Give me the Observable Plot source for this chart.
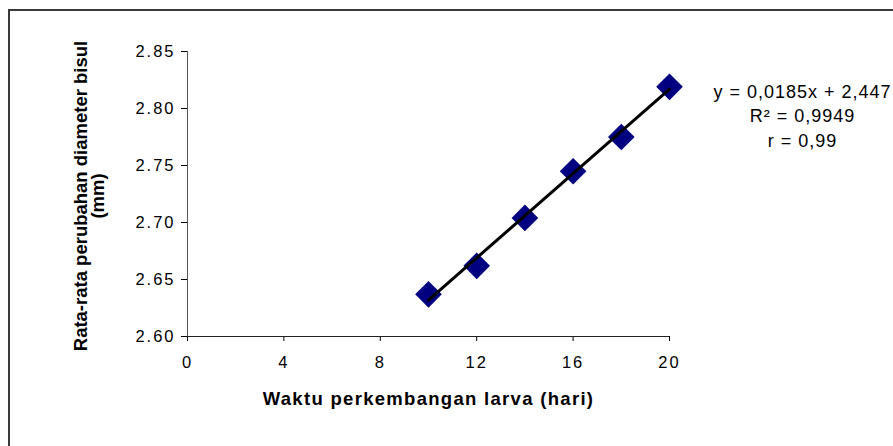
<!DOCTYPE html>
<html>
<head>
<meta charset="utf-8">
<script src="https://cdn.jsdelivr.net/npm/d3@7"></script>
<script src="https://cdn.jsdelivr.net/npm/@observablehq/plot@0.6"></script>
<style>
  html, body { margin: 0; padding: 0; background: #fff; overflow: hidden; }
  #chart { position: relative; width: 893px; height: 446px; }
  #border {
    position: absolute; left: 8px; top: 9px; width: 940px; height: 480px;
    border-left: 2px solid #3a3a3a; border-top: 2px solid #3a3a3a;
    pointer-events: none;
  }
  #chart svg { position: absolute; left: 0; top: 0; }
  g[aria-label="x-axis tick label"] text,
  g[aria-label="y-axis tick label"] text { letter-spacing: 2px; }
  g.eq text { letter-spacing: 1px; }
  g.xlab text { letter-spacing: 1.3px; }
</style>
</head>
<body>
<div id="chart"><div id="border"></div></div>
<script>
// Larval development time (days) vs. mean change of boil diameter (mm)
const days = [10, 12, 14, 16, 18, 20];
const diameter = [2.637, 2.662, 2.704, 2.745, 2.775, 2.819];
const xTicks = [0, 4, 8, 12, 16, 20];
const yTicks = [2.60, 2.65, 2.70, 2.75, 2.80, 2.85];

// Linear trendline and its statistics
const slope = 0.0185;
const intercept = 2.447;
const rSquared = "0,9949";
const rValue = "0,99";

const xTitle = "Waktu perkembangan larva (hari)";
const yTitle = "Rata-rata perubahan diameter bisul\n(mm)";

const points = days.map((d, i) => ({day: d, value: diameter[i]}));
const xMin = d3.min(days), xMax = d3.max(days);
const trend = [xMin, xMax].map(d => ({day: d, value: intercept + slope * d}));

const comma = v => String(v).replace(".", ",");
const equation = `y = ${comma(slope)}x + ${comma(intercept)}\nR\u00B2 = ${rSquared}\nr = ${rValue}`;

const font = "'Liberation Sans', Arial, Helvetica, sans-serif";

const chart = Plot.plot({
  width: 893,
  height: 446,
  marginLeft: 187,
  marginRight: 224,
  marginTop: 51,
  marginBottom: 110,
  style: {fontFamily: font, background: "transparent", color: "#000"},
  x: {domain: [0, 20]},
  y: {domain: [2.60, 2.85]},
  marks: [
    Plot.axisX({ticks: xTicks, tickSize: 5, tickPadding: 15, fontSize: 16.5, label: null}),
    Plot.axisY({ticks: yTicks, tickSize: 6, tickPadding: 6, fontSize: 16.5, tickFormat: d3.format(".2f"), label: null}),
    Plot.ruleX([0], {stroke: "#555", strokeWidth: 1}),
    Plot.ruleY([2.60], {stroke: "#222", strokeWidth: 1}),
    Plot.dot(points, {x: "day", y: "value", symbol: "diamond2", r: 12, fill: "#000080", stroke: "none"}),
    Plot.line(trend, {x: "day", y: "value", stroke: "#000", strokeWidth: 3}),
    Plot.text([equation], {
      frameAnchor: "top-right", dx: 133, dy: 29, lineAnchor: "top", textAnchor: "middle",
      lineHeight: 1.36, fontSize: 18, fill: "#000", className: "eq"
    }),
    Plot.text([xTitle], {
      frameAnchor: "bottom", dy: 68, lineAnchor: "bottom", textAnchor: "middle",
      fontSize: 18.5, fontWeight: "bold", fill: "#000", className: "xlab"
    }),
    Plot.text([yTitle], {
      frameAnchor: "left", dx: -97.5, dy: 2, rotate: -90, lineAnchor: "middle", textAnchor: "middle",
      lineHeight: 0.9, fontSize: 18.5, fontWeight: "bold", fill: "#000"
    })
  ]
});

document.getElementById("chart").appendChild(chart);
</script>
</body>
</html>
